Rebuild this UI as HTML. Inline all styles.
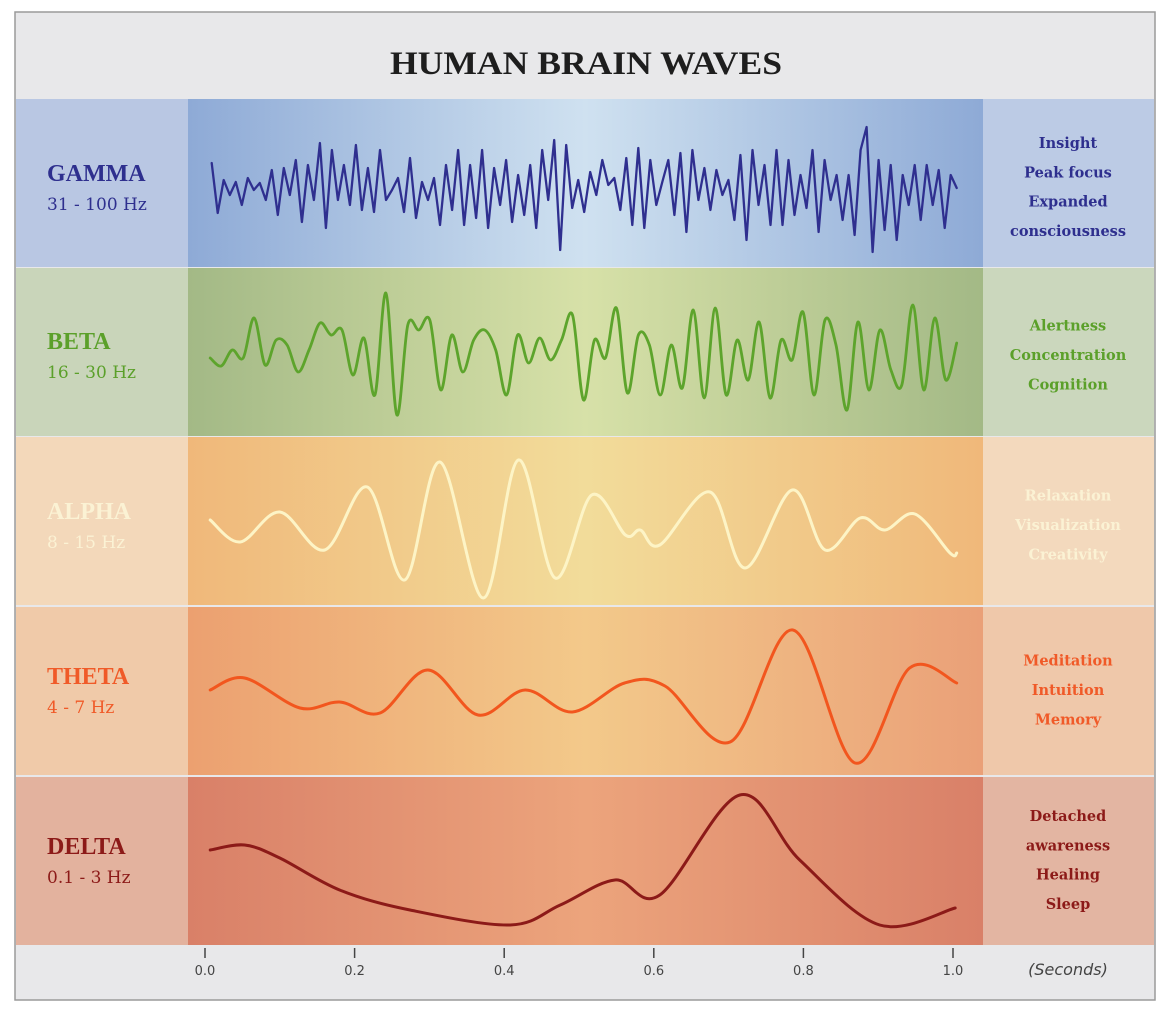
<!DOCTYPE html>
<html><head><meta charset="utf-8"><style>
html,body{margin:0;padding:0;background:#fff;}
svg{display:block;}
</style></head><body>
<svg id="chart" width="1174" height="1016" viewBox="0 0 1174 1016" xmlns="http://www.w3.org/2000/svg">
<defs>
<linearGradient id="g0" x1="0" x2="1"><stop offset="0" stop-color="#8eaad6"/><stop offset="0.5" stop-color="#cfe1f0"/><stop offset="1" stop-color="#8eaad6"/></linearGradient>
<linearGradient id="g1" x1="0" x2="1"><stop offset="0" stop-color="#a3b986"/><stop offset="0.5" stop-color="#d7e1a8"/><stop offset="1" stop-color="#a3b986"/></linearGradient>
<linearGradient id="g2" x1="0" x2="1"><stop offset="0" stop-color="#f0b87a"/><stop offset="0.5" stop-color="#f2dc9a"/><stop offset="1" stop-color="#f0b87a"/></linearGradient>
<linearGradient id="g3" x1="0" x2="1"><stop offset="0" stop-color="#eca070"/><stop offset="0.5" stop-color="#f3c98a"/><stop offset="1" stop-color="#eaa078"/></linearGradient>
<linearGradient id="g4" x1="0" x2="1"><stop offset="0" stop-color="#d98068"/><stop offset="0.5" stop-color="#eca47c"/><stop offset="1" stop-color="#d98068"/></linearGradient>
</defs>
<rect x="15" y="12" width="1140" height="988" fill="#e8e8ea" stroke="#9a9a9a" stroke-width="1.5"/>
<text x="390" y="74" textLength="392" lengthAdjust="spacingAndGlyphs" font-family="Liberation Serif, serif" font-weight="bold" font-size="33" fill="#1e1e1e">HUMAN BRAIN WAVES</text>
<g id="rows"></g>
<g id="axis"></g>
</svg>
<script>
// ---- data ----
const bandNames = ["GAMMA","BETA","ALPHA","THETA","DELTA"];
const bandRanges = ["31 - 100 Hz","16 - 30 Hz","8 - 15 Hz","4 - 7 Hz","0.1 - 3 Hz"];
const bandTraits = [["Insight","Peak focus","Expanded","consciousness"],["Alertness","Concentration","Cognition"],["Relaxation","Visualization","Creativity"],["Meditation","Intuition","Memory"],["Detached","awareness","Healing","Sleep"]];
const tickLabels = ["0.0","0.2","0.4","0.6","0.8","1.0"];
const tickValues = [0,0.2,0.4,0.6,0.8,1.0];
const gammaValues = [24,-26,7,-8,5,-18,9,-3,4,-13,17,-28,19,-8,27,-35,22,-13,44,-41,37,-13,22,-18,42,-23,19,-25,37,-13,-3,9,-25,29,-31,5,-13,9,-38,22,-23,37,-38,22,-31,37,-41,19,-18,27,-35,12,-28,22,-41,37,-13,47,-63,42,-21,7,-25,15,-8,27,2,9,-23,29,-38,39,-41,27,-18,5,27,-28,34,-45,37,-13,19,-23,17,-8,7,-33,32,-53,37,-18,22,-38,37,-38,27,-28,12,-21,37,-45,27,-13,12,-33,12,-48,37,60,-65,27,-43,22,-53,12,-18,22,-33,22,-18,17,-41,12,-1];
const gammaStart = 0.009, gammaEnd = 1.005;
const betaValues = [-3,-11,5,-3,37,-10,15,10,-17,5,32,20,25,-20,17,-40,62,-60,30,25,35,-35,20,-17,15,25,5,-40,20,-8,17,-5,15,40,-45,15,-3,47,-38,20,10,-40,10,-33,45,-43,47,-40,15,-25,33,-43,15,-5,43,-40,35,10,-55,33,-35,25,-15,-30,50,-35,37,-25,12];
const betaStart = 0.007, betaEnd = 1.005;
const alphaT = [0.007,0.047,0.100,0.160,0.217,0.267,0.314,0.372,0.419,0.468,0.517,0.562,0.582,0.608,0.675,0.722,0.785,0.829,0.876,0.909,0.949,0.996,1.005];
const alphaV = [5,-17,13,-25,38,-55,63,-73,65,-53,30,-10,-5,-20,33,-43,35,-25,7,-5,11,-28,-28];
const thetaT = [0.007,0.053,0.127,0.180,0.234,0.298,0.365,0.428,0.491,0.561,0.615,0.702,0.786,0.869,0.942,1.005];
const thetaV = [0,12,-18,-12,-23,20,-25,0,-22,7,4,-52,60,-73,22,7];
const deltaT = [0.007,0.053,0.100,0.180,0.274,0.408,0.475,0.548,0.608,0.715,0.795,0.902,1.003];
const deltaV = [10,15,2,-30,-50,-65,-45,-20,-35,65,0,-65,-48];

// ---- layout ----
const NS="http://www.w3.org/2000/svg";
const rowTops=[99,268,437,607,777], rowH=168;
const centers=[187,355,525,690,860];
const leftBg=["#b9c7e3","#c9d5ba","#f3d8ba","#f0caa9","#e3b29e"];
const rightBg=["#bccbe5","#cbd7bd","#f3d9bd","#efc8aa","#e3b5a2"];
const txt=["#2e2f8e","#5ba02a","#fbf2d4","#f05a28","#8c1a18"];
const lineCol=["#2f2f8f","#5da42c","#fdf4c6","#f2561e","#8c1a18"];
const xScale=t=>205+t*748;
function el(tag,attrs,parent){const e=document.createElementNS(NS,tag);for(const k in attrs)e.setAttribute(k,attrs[k]);parent.appendChild(e);return e;}
function smooth(pts){let d="M"+pts[0][0].toFixed(1)+","+pts[0][1].toFixed(1);
 for(let i=0;i<pts.length-1;i++){const p0=pts[i-1]||pts[i],p1=pts[i],p2=pts[i+1],p3=pts[i+2]||p2;
  const c1=[p1[0]+(p2[0]-p0[0])/6,p1[1]+(p2[1]-p0[1])/6],c2=[p2[0]-(p3[0]-p1[0])/6,p2[1]-(p3[1]-p1[1])/6];
  d+=" C"+c1[0].toFixed(1)+","+c1[1].toFixed(1)+" "+c2[0].toFixed(1)+","+c2[1].toFixed(1)+" "+p2[0].toFixed(1)+","+p2[1].toFixed(1);}
 return d;}
const rows=document.getElementById('rows');
const waveIds=["gamma","beta","alpha","theta","delta"];
for(let i=0;i<5;i++){
 const g=el('g',{},rows);
 
 
 const l=el('rect',{x:16,y:rowTops[i],width:172,height:rowH,fill:leftBg[i]},g);
 
 
 const m=el('rect',{x:188,y:rowTops[i],width:795,height:rowH,fill:'url(#g'+i+')'},g);
 
 
 const r=el('rect',{x:983,y:rowTops[i],width:171,height:rowH,fill:rightBg[i]},g);
 
 
 const n=el('text',{x:47,y:centers[i]-6,'font-family':'Liberation Serif, serif','font-weight':'bold','font-size':'24',fill:txt[i]},g);
 n.textContent=bandNames[i];
 
 
 const f=el('text',{x:47,y:centers[i]+23,'font-family':'DejaVu Serif, serif','font-size':'17',fill:txt[i]},g);
 f.textContent=bandRanges[i];
 
 
 const tr=bandTraits[i], n0=tr.length;
 for(let k=0;k<n0;k++){
  const t=el('text',{x:1068,y:centers[i]-(n0-1)*14.7+k*29.4+5,'text-anchor':'middle','font-family':'DejaVu Serif, serif','font-weight':'bold','font-size':'14.5',fill:txt[i]},g);
  t.textContent=tr[k];
  
  
 }
}
function uniformPts(vals,a,b,c){return vals.map((v,j)=>[xScale(a+(b-a)*j/(vals.length-1)),c-v]);}
function tvPts(T,V,c){return T.map((t,j)=>[xScale(t),c-V[j]]);}
const wavePts=[uniformPts(gammaValues,gammaStart,gammaEnd,centers[0]),uniformPts(betaValues,betaStart,betaEnd,centers[1]),tvPts(alphaT,alphaV,centers[2]),tvPts(thetaT,thetaV,centers[3]),tvPts(deltaT,deltaV,centers[4])];
for(let i=0;i<5;i++){
 let d;
 if(i===0){d="M"+wavePts[0].map(p=>p[0].toFixed(1)+","+p[1].toFixed(1)).join(" L");}
 else d=smooth(wavePts[i]);
 const p=el('path',{d:d,fill:'none',stroke:lineCol[i],'stroke-width':i===0?2.3:(i===1?2.8:3),'stroke-linejoin':'round','stroke-linecap':'round'},rows);
 
 
}
const ax=document.getElementById('axis');
for(let k=0;k<tickValues.length;k++){
 const x=xScale(tickValues[k]);
 const tk=el('line',{x1:x,x2:x,y1:948,y2:958,stroke:'#444','stroke-width':1.5},ax);
 
 
 const tl=el('text',{x:x,y:975,'text-anchor':'middle','font-family':'DejaVu Sans, sans-serif','font-size':'13',fill:'#444'},ax);
 tl.textContent=tickLabels[k];
 
 
}
const at=el('text',{x:1068,y:975,'text-anchor':'middle','font-family':'DejaVu Sans, sans-serif','font-style':'italic','font-size':'16',fill:'#444'},ax);
at.textContent="(Seconds)";


</script>
</body></html>
